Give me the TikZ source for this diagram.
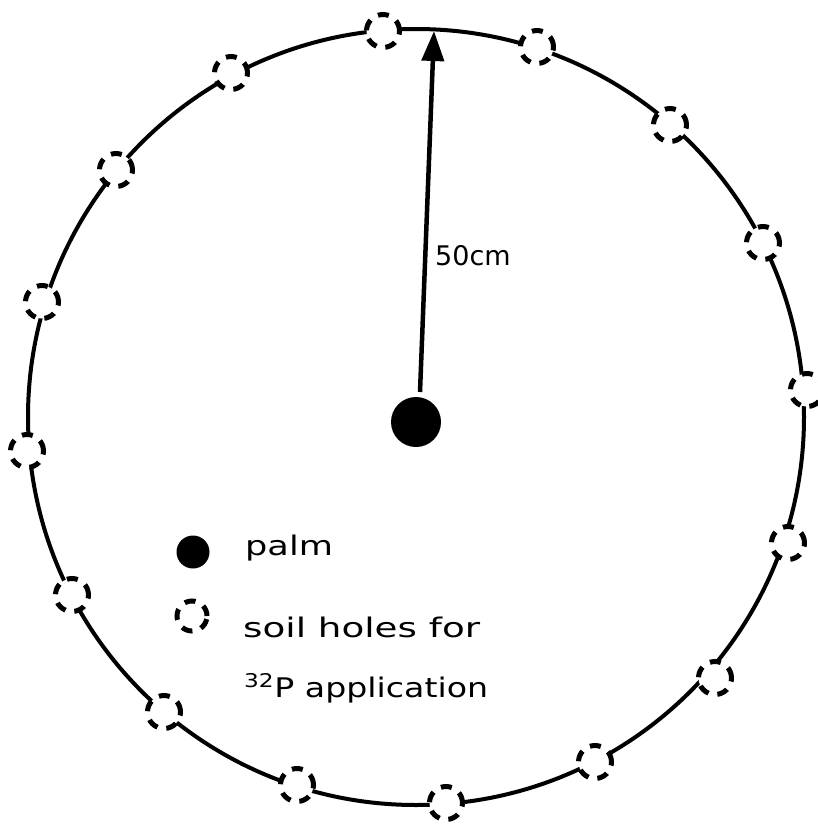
\documentclass[tikz,border=0pt]{standalone}
\usepackage{fontspec}
\setmainfont{DejaVu Sans}
\usetikzlibrary{arrows.meta}
\newcommand\wideby[2]{\scalebox{#1}[1]{#2}}
\begin{document}
\begin{tikzpicture}[x=1pt,y=-1pt,
  hole/.style={circle,draw,fill=white,minimum size=33pt,inner sep=0pt,line width=5pt,dash pattern=on 11pt off 9pt},
  dot/.style={circle,fill=black,inner sep=0pt},
  lbl/.style={font=\fontsize{27}{29}\selectfont,anchor=base west,inner sep=0pt}]
\useasboundingbox (0,0) rectangle (818,825);
\draw[line width=4pt] (416,417) circle (388);
\foreach \n/\x/\y in {h1/383/31,h2/537/47,h3/670/125,h4/763/243,h5/807/390,h6/788/543,h7/715/678,h8/595/762,h9/446/803,h10/297/785,h11/164/712,h12/72/595,h13/27/451,h14/42/302,h15/116/170,h16/231/73}
  \node[hole] (\n) at (\x,\y) {};
\node[dot,minimum size=50pt] (palm) at (416,422) {};
\coordinate (tip) at (434,31);
\draw[line width=4.5pt,-{Triangle[length=30pt,width=22pt]}] (420,392) -- (tip);
\node[lbl] (r) at (435,265) {50cm};
\node[dot,minimum size=33pt] (lpalm) at (193,552) {};
\node[lbl] (tpalm) at (245,555) {\wideby{1.30}{palm}};
\node[hole,minimum size=30pt] (lhole) at (192,616) {};
\node[lbl] (t1) at (243,637) {\wideby{1.38}{soil holes for}};
\node[lbl] (t2) at (244,697) {\wideby{1.23}{\textsuperscript{32}P application}};
\end{tikzpicture}
\end{document}
